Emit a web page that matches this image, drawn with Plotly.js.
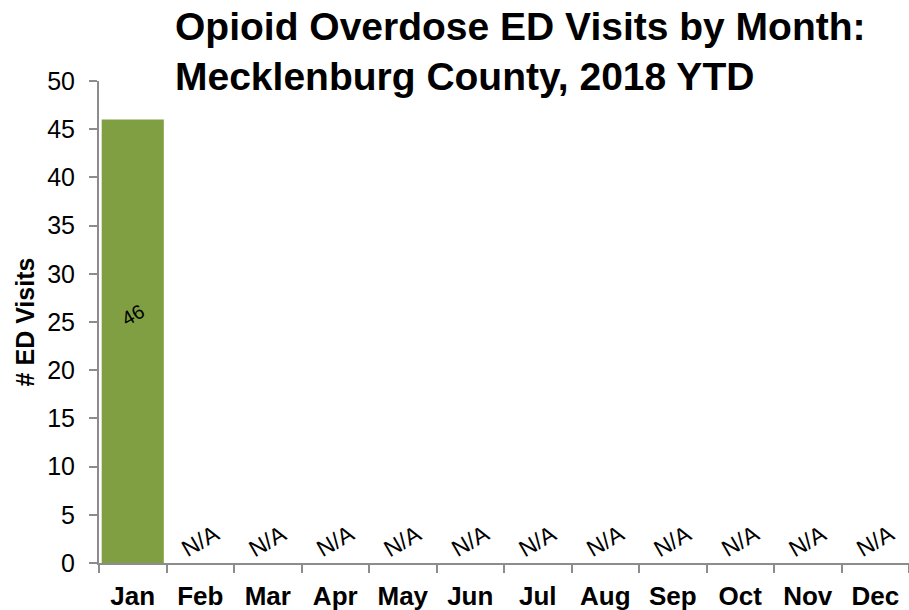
<!DOCTYPE html>
<html>
<head>
<meta charset="utf-8">
<script src="https://cdn.plot.ly/plotly-3.0.1.min.js"></script>
<style>html,body{margin:0;padding:0;background:#fff;}#chart{width:909px;height:610px;}</style>
</head>
<body>
<div id="chart"></div>
<script>
const months = ["Jan","Feb","Mar","Apr","May","Jun","Jul","Aug","Sep","Oct","Nov","Dec"];
const visits = [46, null, null, null, null, null, null, null, null, null, null, null];
const labels = ["46","N/A","N/A","N/A","N/A","N/A","N/A","N/A","N/A","N/A","N/A","N/A"];
const yTicks = [0,5,10,15,20,25,30,35,40,45,50];

const barColor = "#7f9f42";
const axisGrey = "#8c8c8c";

const annotations = months.map((m, i) => {
  const v = visits[i];
  const has = v !== null;
  return {
    x: m, y: has ? v / 2 : 0, xref: "x", yref: "y",
    text: labels[i], showarrow: false, textangle: -30,
    yanchor: "middle", yshift: has ? 26 : 22,
    font: {family: "Liberation Sans, Arial, sans-serif", size: has ? 20 : 23, color: "#000"}
  };
});

const trace = {
  type: "bar", x: months, y: visits,
  marker: {color: barColor, line: {width: 0}},
  hoverinfo: "x+y"
};

const layout = {
  width: 909, height: 610,
  margin: {l: 99, r: 0, t: 81, b: 47},
  paper_bgcolor: "#fff", plot_bgcolor: "#fff",
  bargap: 0.08,
  showlegend: false,
  title: {
    text: "Opioid Overdose ED Visits by Month:<br>Mecklenburg County, 2018 YTD",
    x: 175/909, xanchor: "left", xref: "container",
    y: 0.935, yanchor: "top", yref: "container",
    font: {family: "Liberation Sans, Arial, sans-serif", size: 39, color: "#000", weight: 700}
  },
  xaxis: {
    type: "category", categoryorder: "array", categoryarray: months,
    showline: true, linecolor: axisGrey, linewidth: 2,
    ticks: "outside", tickson: "boundaries", ticklen: 8, tickcolor: axisGrey, tickwidth: 2,
    ticklabelstandoff: 9,
    tickfont: {family: "Liberation Sans, Arial, sans-serif", size: 26, color: "#000", weight: 700},
    showgrid: false, zeroline: false, fixedrange: true
  },
  yaxis: {
    range: [0, 50], tickvals: yTicks, ticktext: yTicks.map(String),
    showline: true, linecolor: axisGrey, linewidth: 2,
    ticks: "outside", ticklen: 8, tickcolor: axisGrey, tickwidth: 2,
    ticklabelstandoff: 9,
    tickfont: {family: "Liberation Sans, Arial, sans-serif", size: 25, color: "#000"},
    showgrid: false, zeroline: false, fixedrange: true,
    title: {text: "# ED Visits", standoff: 5,
      font: {family: "Liberation Sans, Arial, sans-serif", size: 25, color: "#000", weight: 700}}
  },
  annotations: annotations
};

Plotly.newPlot("chart", [trace], layout, {displayModeBar: false});
</script>
</body>
</html>
